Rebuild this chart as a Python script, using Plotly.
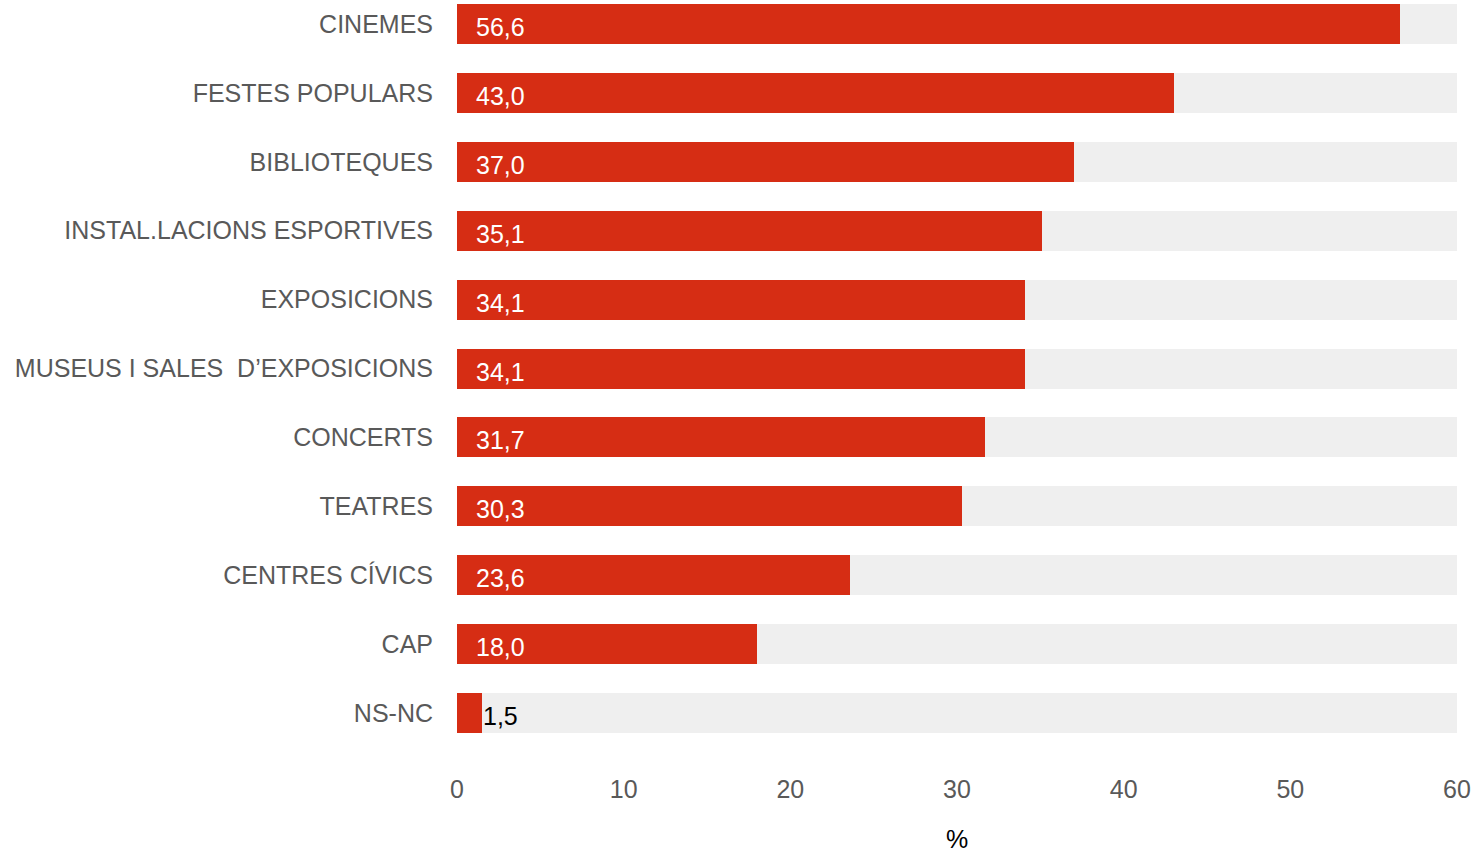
import plotly.graph_objects as go

categories = ["CINEMES", "FESTES POPULARS", "BIBLIOTEQUES", "INSTAL.LACIONS ESPORTIVES",
              "EXPOSICIONS", "MUSEUS I SALES  D\u2019EXPOSICIONS", "CONCERTS", "TEATRES",
              "CENTRES CÍVICS", "CAP", "NS-NC"]
values = [56.6, 43.0, 37.0, 35.1, 34.1, 34.1, 31.7, 30.3, 23.6, 18.0, 1.5]
axis_max = 60
x_ticks = [0, 10, 20, 30, 40, 50, 60]

RED = "#D62D14"
GREY_BG = "#EFEFEF"
LABEL_GREY = "#595959"
FONT = "Liberation Sans, Arial, sans-serif"

fig = go.Figure()
fig.add_trace(go.Bar(
    y=categories, x=[axis_max] * len(categories), orientation="h",
    marker=dict(color=GREY_BG, line=dict(width=0)), width=0.58,
    hoverinfo="skip", showlegend=False))
fig.add_trace(go.Bar(
    y=categories, x=values, orientation="h",
    marker=dict(color=RED, line=dict(width=0)), width=0.58,
    showlegend=False))

annotations = []
for c, v in zip(categories, values):
    txt = f"{v:.1f}".replace(".", ",")
    inside = v >= 5
    annotations.append(dict(
        x=0 if inside else v, y=c, xref="x", yref="y",
        text=txt, showarrow=False, xanchor="left", yanchor="middle",
        xshift=17 if inside else -1, yshift=-3,
        font=dict(family=FONT, size=25, color="white" if inside else "black")))

fig.update_layout(
    width=1471, height=853,
    margin=dict(l=457, r=14, t=0, b=93),
    barmode="overlay",
    bargap=0,
    plot_bgcolor="white", paper_bgcolor="white",
    font=dict(family=FONT, size=25, color=LABEL_GREY),
    annotations=annotations,
    xaxis=dict(range=[0, axis_max], tickvals=x_ticks, showgrid=False, zeroline=False,
               showline=False, ticks="", tickfont=dict(size=25, color=LABEL_GREY),
               ticklabelstandoff=12, automargin=False,
               title=dict(text="%", font=dict(size=25, color="black"), standoff=34)),
    yaxis=dict(type="category", categoryarray=categories, range=[10.68, -0.348],
               showgrid=False, zeroline=False, showline=False, ticks="", automargin=False,
               tickfont=dict(size=25, color=LABEL_GREY), ticklabelstandoff=23),
)

fig.write_html("out.html", config={"displayModeBar": False},
               post_script="document.body.style.margin='0';document.body.style.overflow='hidden';")
